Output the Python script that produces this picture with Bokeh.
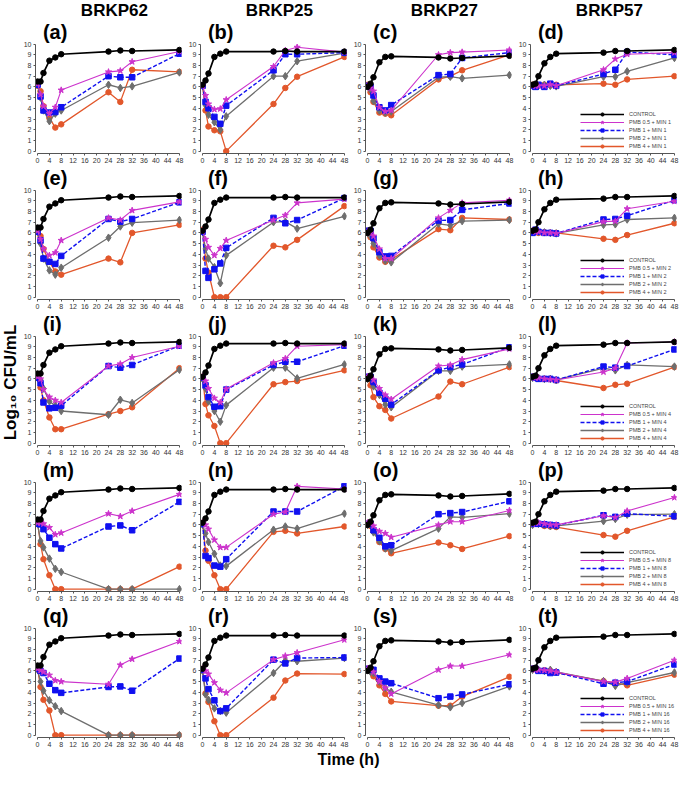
import math
from bokeh.plotting import figure
from bokeh.layouts import column, row
from bokeh.models import Range1d, FixedTicker, Legend, LegendItem
from bokeh.core.properties import value
from bokeh.embed import file_html
from bokeh.resources import INLINE

# ---------------- data ----------------
TIME = [0, 1, 2, 4, 6, 8, 24, 28, 32, 48]
STRAINS = ["BRKP62", "BRKP25", "BRKP27", "BRKP57"]
MIN_DOSES = [1, 2, 4, 8, 16]
PMB_DOSES = ["0.5", "1", "2", "4"]
LETTERS = "abcdefghijklmnopqrst"
X_TICKS = list(range(0, 49, 4))
Y_TICKS = list(range(0, 11))

CONTROL_BRKP62 = [6.5, 6.5, 7.3, 8.45, 8.75, 9.05, 9.3, 9.4, 9.35, 9.45]
CONTROL_BRKP25 = [6.2, 6.6, 7.25, 8.8, 9.1, 9.3, 9.3, 9.35, 9.3, 9.3]
CONTROL_BRKP27 = [6.0, 6.3, 6.9, 8.3, 8.8, 8.85, 8.75, 8.65, 8.7, 8.9]
CONTROL_BRKP57 = [6.2, 6.3, 7.0, 8.2, 8.8, 9.1, 9.2, 9.35, 9.35, 9.45]
CONTROLS = [CONTROL_BRKP62, CONTROL_BRKP25, CONTROL_BRKP27, CONTROL_BRKP57]

# each panel: (PMB 0.5, PMB 1, PMB 2, PMB 4) combined with minocycline
PANEL_A = ([6.3, 5.3, 4.2, 3.5, 4.1, 5.7, 7.4, 7.5, 8.35, 9.3],
           [6.2, 5.1, 3.8, 3.6, 3.65, 4.1, 7.0, 6.9, 6.9, 9.1],
           [6.2, 5.0, 3.8, 2.8, 3.5, 3.8, 6.2, 5.9, 6.05, 7.35],
           [6.1, 5.6, 4.2, 3.1, 2.2, 2.5, 5.5, 4.6, 7.6, 7.4])
PANEL_B = ([6.1, 5.2, 4.4, 3.9, 3.95, 4.8, 7.9, 9.4, 9.7, 9.25],
           [6.1, 4.6, 4.0, 3.2, 2.55, 4.25, 7.55, 9.05, 9.05, 9.2],
           [6.1, 4.3, 3.4, 2.7, 2.0, 3.25, 7.0, 7.0, 8.4, 9.15],
           [6.1, 3.8, 2.3, 1.95, 1.85, 0, 4.4, 5.9, 6.95, 8.8])
PANEL_C = ([6.1, 5.9, 5.6, 4.1, 3.7, 3.8, 9.0, 9.2, 9.25, 9.45],
           [6.1, 6.0, 5.2, 4.1, 3.8, 4.3, 7.1, 7.2, 8.7, 9.2],
           [6.1, 5.7, 4.7, 3.8, 3.6, 3.7, 6.9, 6.95, 6.8, 7.1],
           [6.2, 5.5, 4.6, 3.6, 3.5, 3.35, 6.7, 7.0, 7.55, 9.0])
PANEL_D = ([6.1, 6.1, 6.1, 6.1, 6.2, 6.1, 7.6, 8.6, 9.05, 9.2],
           [6.1, 6.0, 6.2, 6.0, 6.3, 6.1, 7.2, 7.6, 9.25, 9.0],
           [6.1, 6.1, 6.1, 6.2, 6.1, 6.05, 6.95, 6.95, 7.45, 8.7],
           [6.2, 6.2, 6.15, 6.2, 6.15, 6.2, 6.3, 6.2, 6.7, 7.0])
PANEL_E = ([6.2, 5.4, 4.5, 3.9, 4.15, 5.3, 7.4, 7.2, 8.1, 8.9],
           [6.1, 5.3, 3.6, 3.3, 3.1, 3.85, 7.3, 7.05, 7.3, 8.85],
           [6.1, 5.0, 3.6, 2.5, 2.1, 2.75, 5.55, 6.6, 6.95, 7.2],
           [6.1, 5.7, 4.5, 3.3, 2.4, 2.1, 3.6, 3.25, 6.0, 6.75])
PANEL_F = ([6.2, 5.4, 4.65, 3.9, 4.55, 5.3, 7.2, 7.65, 8.8, 9.15],
           [6.1, 2.45, 1.8, 2.6, 3.15, 4.6, 7.4, 6.9, 7.2, 9.25],
           [6.1, 4.5, 3.6, 2.8, 1.3, 3.9, 7.0, 7.05, 6.4, 7.55],
           [6.3, 3.6, 2.3, 0, 0, 0, 4.8, 4.65, 5.35, 8.5])
PANEL_G = ([6.1, 6.0, 5.7, 4.5, 3.6, 3.6, 7.4, 8.1, 8.8, 9.05],
           [6.2, 6.2, 5.5, 4.2, 3.8, 3.85, 7.15, 7.2, 8.15, 8.75],
           [6.0, 5.7, 5.0, 3.9, 3.4, 3.25, 6.85, 6.7, 7.1, 7.2],
           [6.2, 5.6, 4.65, 3.7, 3.3, 3.5, 6.35, 6.25, 7.4, 7.25])
PANEL_H = ([6.2, 6.1, 6.1, 6.0, 6.0, 5.95, 7.05, 7.1, 8.25, 8.95],
           [6.0, 6.3, 6.1, 6.0, 6.0, 5.95, 7.25, 7.3, 7.6, 9.05],
           [6.1, 6.2, 6.1, 6.05, 6.0, 5.95, 6.75, 6.8, 7.25, 7.4],
           [6.1, 6.2, 6.0, 6.05, 6.0, 6.0, 5.45, 5.35, 5.8, 6.9])
PANEL_I = ([6.2, 6.0, 5.0, 4.3, 4.0, 3.8, 7.2, 7.4, 8.0, 9.05],
           [6.1, 5.6, 3.8, 3.25, 3.3, 3.5, 7.2, 7.05, 7.3, 9.1],
           [6.1, 5.9, 5.1, 3.9, 3.5, 3.0, 2.65, 4.05, 3.75, 6.85],
           [6.1, 5.2, 4.0, 2.4, 1.3, 1.3, 2.7, 3.0, 3.35, 7.0])
PANEL_J = ([6.2, 5.8, 5.1, 4.2, 3.8, 5.05, 7.5, 7.9, 9.05, 9.2],
           [6.1, 5.4, 4.3, 3.4, 3.45, 5.0, 7.3, 7.6, 7.6, 9.1],
           [6.0, 5.1, 3.9, 3.0, 2.0, 3.55, 7.05, 7.05, 6.05, 7.35],
           [6.2, 3.65, 2.6, 1.6, 0, 0, 5.5, 5.7, 5.8, 6.8])
PANEL_K = ([6.2, 6.15, 5.9, 5.1, 4.5, 4.1, 7.2, 7.3, 7.8, 8.8],
           [6.2, 6.2, 5.7, 4.7, 4.15, 3.6, 6.8, 7.1, 7.35, 8.95],
           [6.0, 6.0, 5.3, 4.5, 3.6, 3.35, 6.75, 6.75, 7.15, 7.35],
           [6.1, 5.4, 4.3, 3.45, 3.1, 2.3, 4.35, 5.75, 5.5, 7.1])
PANEL_L = ([6.2, 6.1, 6.1, 6.0, 5.95, 5.9, 6.65, 7.0, 9.35, 9.45],
           [6.2, 6.1, 6.0, 6.0, 6.0, 5.9, 7.15, 7.05, 7.2, 8.75],
           [6.1, 6.2, 6.1, 6.0, 6.0, 5.9, 7.0, 6.8, 7.3, 7.15],
           [6.1, 6.2, 6.05, 6.0, 6.0, 5.85, 5.15, 5.45, 5.55, 7.1])
PANEL_M = ([6.2, 6.2, 6.1, 5.75, 5.1, 5.25, 7.05, 6.8, 7.3, 8.85],
           [6.1, 6.05, 5.6, 4.8, 4.2, 3.8, 5.85, 5.95, 5.5, 8.15],
           [6.1, 4.5, 3.9, 2.85, 1.9, 1.6, 0, 0, 0, 0],
           [6.2, 4.2, 2.8, 1.3, 0, 0, 0, 0, 0, 2.1])
PANEL_N = ([6.2, 6.0, 5.6, 4.6, 3.9, 3.9, 7.0, 7.2, 9.6, 9.35],
           [6.1, 3.1, 2.9, 2.2, 2.1, 2.8, 7.25, 7.25, 7.25, 9.6],
           [6.0, 5.2, 4.4, 3.3, 2.2, 2.15, 5.55, 5.85, 5.65, 7.05],
           [6.2, 3.6, 2.65, 1.3, 0, 0, 5.35, 5.45, 5.2, 5.85])
PANEL_O = ([6.2, 6.1, 5.9, 5.4, 5.2, 4.85, 6.0, 6.3, 6.3, 7.35],
           [6.1, 6.1, 5.5, 4.8, 4.0, 4.1, 7.0, 7.1, 7.2, 8.2],
           [6.0, 6.0, 5.3, 4.5, 3.8, 3.6, 5.65, 6.75, 6.7, 7.05],
           [6.1, 5.9, 5.4, 4.4, 3.75, 3.35, 4.35, 4.1, 3.75, 4.95])
PANEL_P = ([6.1, 6.2, 6.2, 6.1, 6.0, 6.0, 6.85, 6.7, 7.3, 8.55],
           [6.1, 6.1, 6.1, 6.05, 6.0, 5.95, 6.9, 6.75, 7.05, 6.8],
           [6.0, 6.2, 6.1, 6.0, 5.9, 5.9, 6.35, 6.55, 6.95, 7.0],
           [6.1, 6.2, 6.1, 5.9, 5.85, 5.8, 5.05, 4.9, 5.45, 6.75])
PANEL_Q = ([6.2, 6.05, 5.9, 5.6, 5.1, 5.0, 4.75, 6.55, 7.1, 8.75],
           [6.2, 6.0, 5.8, 4.8, 4.2, 3.95, 4.5, 4.55, 4.15, 7.15],
           [6.1, 5.0, 4.15, 3.25, 2.7, 2.25, 0, 0, 0, 0],
           [6.2, 4.5, 3.3, 2.3, 0, 0, 0, 0, 0, 0])
PANEL_R = ([6.2, 6.0, 5.7, 4.9, 4.2, 3.95, 7.05, 7.4, 7.7, 8.9],
           [6.1, 5.3, 4.3, 3.25, 2.25, 2.5, 7.05, 6.7, 7.2, 7.25],
           [6.0, 3.8, 3.3, 2.5, 2.25, 2.1, 5.8, 6.95, 6.9, 7.2],
           [6.2, 3.9, 3.1, 1.3, 0, 0, 3.5, 5.1, 5.75, 5.7])
PANEL_S = ([6.2, 6.1, 5.9, 5.0, 4.4, 3.85, 6.1, 6.45, 6.45, 7.5],
           [6.2, 6.1, 6.1, 5.3, 5.0, 4.85, 3.45, 3.6, 3.8, 4.75],
           [6.1, 5.9, 5.8, 5.0, 4.4, 4.05, 2.8, 2.6, 3.0, 4.55],
           [6.2, 6.0, 5.5, 4.65, 3.85, 3.15, 2.75, 2.75, 3.6, 5.45])
PANEL_T = ([6.2, 6.1, 6.1, 6.05, 6.0, 5.9, 5.0, 4.95, 5.3, 7.0],
           [6.2, 6.2, 6.0, 6.0, 5.8, 5.85, 4.8, 4.9, 5.0, 6.6],
           [6.1, 6.2, 6.1, 6.0, 6.1, 5.9, 5.05, 4.6, 4.9, 5.85],
           [6.2, 6.2, 6.05, 6.05, 6.0, 5.85, 5.05, 4.9, 4.65, 5.65])

PANELS = [PANEL_A, PANEL_B, PANEL_C, PANEL_D,
          PANEL_E, PANEL_F, PANEL_G, PANEL_H,
          PANEL_I, PANEL_J, PANEL_K, PANEL_L,
          PANEL_M, PANEL_N, PANEL_O, PANEL_P,
          PANEL_Q, PANEL_R, PANEL_S, PANEL_T]

# ---------------- styles ----------------
FONT = "Liberation Sans"
COL_W = 165
ROW_H = 146          # height of rows 2-5
TITLE_EXTRA = 20     # extra height of row 1 for the strain titles
LEFT_W = 20
BOTTOM_H = 18
TOTAL_W = LEFT_W + 4 * COL_W
BOTTOM_BORDER = 13
Y_LO = -0.22
Y_TOP = 12.2                         # room above 10 for the panel letter
PX_PER_UNIT = (ROW_H - BOTTOM_BORDER) / (Y_TOP - Y_LO)
Y_TOP_FIRST = Y_TOP + TITLE_EXTRA / PX_PER_UNIT
AXIS_COLOR = "#555555"

CONTROL_STYLE = dict(color="#000000", size=5.5, width=1.7)
SERIES_STYLES = [
    dict(color="#CC33CC", marker="star", size=6.5, width=1.1, dash="solid"),
    dict(color="#1010F0", marker="square", size=5.5, width=1.4, dash="4 2"),
    dict(color="#6E6E6E", marker="diamond", size=7.5, width=1.3, dash="solid"),
    dict(color="#E2572B", marker="circle", size=5.5, width=1.3, dash="solid"),
]


def style_axis(ax):
    ax.axis_line_color = AXIS_COLOR
    ax.axis_line_width = 1
    ax.major_tick_line_color = AXIS_COLOR
    ax.minor_tick_line_color = None
    ax.major_tick_out = 2
    ax.major_tick_in = 0
    ax.major_label_text_font_size = "7px"
    ax.major_label_text_font = FONT
    ax.major_label_text_color = "#333333"
    ax.major_label_standoff = 2


def blank_fig(w, h):
    f = figure(width=w, height=h, x_range=Range1d(0, w), y_range=Range1d(0, h),
               x_axis_type=None, y_axis_type=None, output_backend="svg",
               toolbar_location=None, min_border=0, title=None)
    f.outline_line_color = None
    f.xgrid.visible = False
    f.ygrid.visible = False
    return f


def make_panel(r, c):
    idx = r * 4 + c
    first = (r == 0)
    p = figure(width=COL_W, height=ROW_H + (TITLE_EXTRA if first else 0),
               x_range=Range1d(-0.7, 48.7),
               y_range=Range1d(Y_LO, Y_TOP_FIRST if first else Y_TOP),
               output_backend="svg", toolbar_location=None, title=None,
               min_border_left=12, min_border_right=4,
               min_border_top=0, min_border_bottom=BOTTOM_BORDER)
    p.outline_line_color = None
    p.xgrid.visible = False
    p.ygrid.visible = False
    p.xaxis.ticker = FixedTicker(ticks=X_TICKS)
    p.yaxis.ticker = FixedTicker(ticks=Y_TICKS)
    p.xaxis.bounds = (0, 48)
    p.yaxis.bounds = (0, 10)
    style_axis(p.xaxis[0])
    style_axis(p.yaxis[0])

    series = list(PANELS[idx])
    labels = [f"PMB {d} + MIN {MIN_DOSES[r]}" for d in PMB_DOSES]
    items = {}
    for k in [3, 2, 1, 0]:
        st = SERIES_STYLES[k]
        ln = p.line(TIME, series[k], line_color=st["color"], line_width=st["width"],
                    line_dash=st["dash"])
        sc = p.scatter(TIME, series[k], marker=st["marker"], size=st["size"],
                       fill_color=st["color"], line_color=st["color"])
        items[k] = LegendItem(label=labels[k], renderers=[ln, sc])
    ln = p.line(TIME, CONTROLS[c], line_color=CONTROL_STYLE["color"],
                line_width=CONTROL_STYLE["width"])
    sc = p.scatter(TIME, CONTROLS[c], marker="circle", size=CONTROL_STYLE["size"],
                   fill_color="#000000", line_color="#000000")
    ctrl_item = LegendItem(label="CONTROL", renderers=[ln, sc])

    if c == 3:
        legend = Legend(items=[ctrl_item, items[0], items[1], items[2], items[3]],
                        location=(50, 3), glyph_width=44, glyph_height=8,
                        label_height=8, label_text_font_size="5.5px",
                        label_text_font=FONT, label_standoff=5,
                        spacing=0, padding=0, margin=0,
                        border_line_color=None, background_fill_alpha=0)
        p.add_layout(legend)

    # panel letter, just above the top of the y axis
    p.text(x=[1.8], y=[10.15 + 10 / PX_PER_UNIT], text=[f"({LETTERS[idx]})"],
           text_font=value(FONT), text_font_size=value("20px"),
           text_font_style="bold", text_color="#000000",
           text_align="left", text_baseline="middle")
    if first:
        p.text(x=[26], y=[Y_TOP + 10 / PX_PER_UNIT], text=[STRAINS[c]],
               text_font=value(FONT), text_font_size=value("17px"),
               text_font_style="bold", text_color="#000000",
               text_align="center", text_baseline="middle")
    return p


# ---------------- layout ----------------
grid_rows = []
for r in range(5):
    grid_rows.append(row(*[make_panel(r, c) for c in range(4)]))

left_h = 5 * ROW_H + TITLE_EXTRA
left = blank_fig(LEFT_W, left_h)
left.text(x=[10], y=[left_h - 382], text=["Log\u2081\u2080 CFU/mL"],
          text_font=value(FONT), text_font_size=value("17px"),
          text_font_style="bold", text_color="#000000",
          text_align="center", text_baseline="middle", angle=math.pi / 2)

bottom = blank_fig(TOTAL_W, BOTTOM_H)
bottom.text(x=[348], y=[BOTTOM_H / 2], text=["Time (h)"],
            text_font=value(FONT), text_font_size=value("16px"),
            text_font_style="bold", text_color="#000000",
            text_align="center", text_baseline="middle")

layout = column(row(left, column(*grid_rows)), bottom)

open("out.html", "w").write(file_html(layout, INLINE))
